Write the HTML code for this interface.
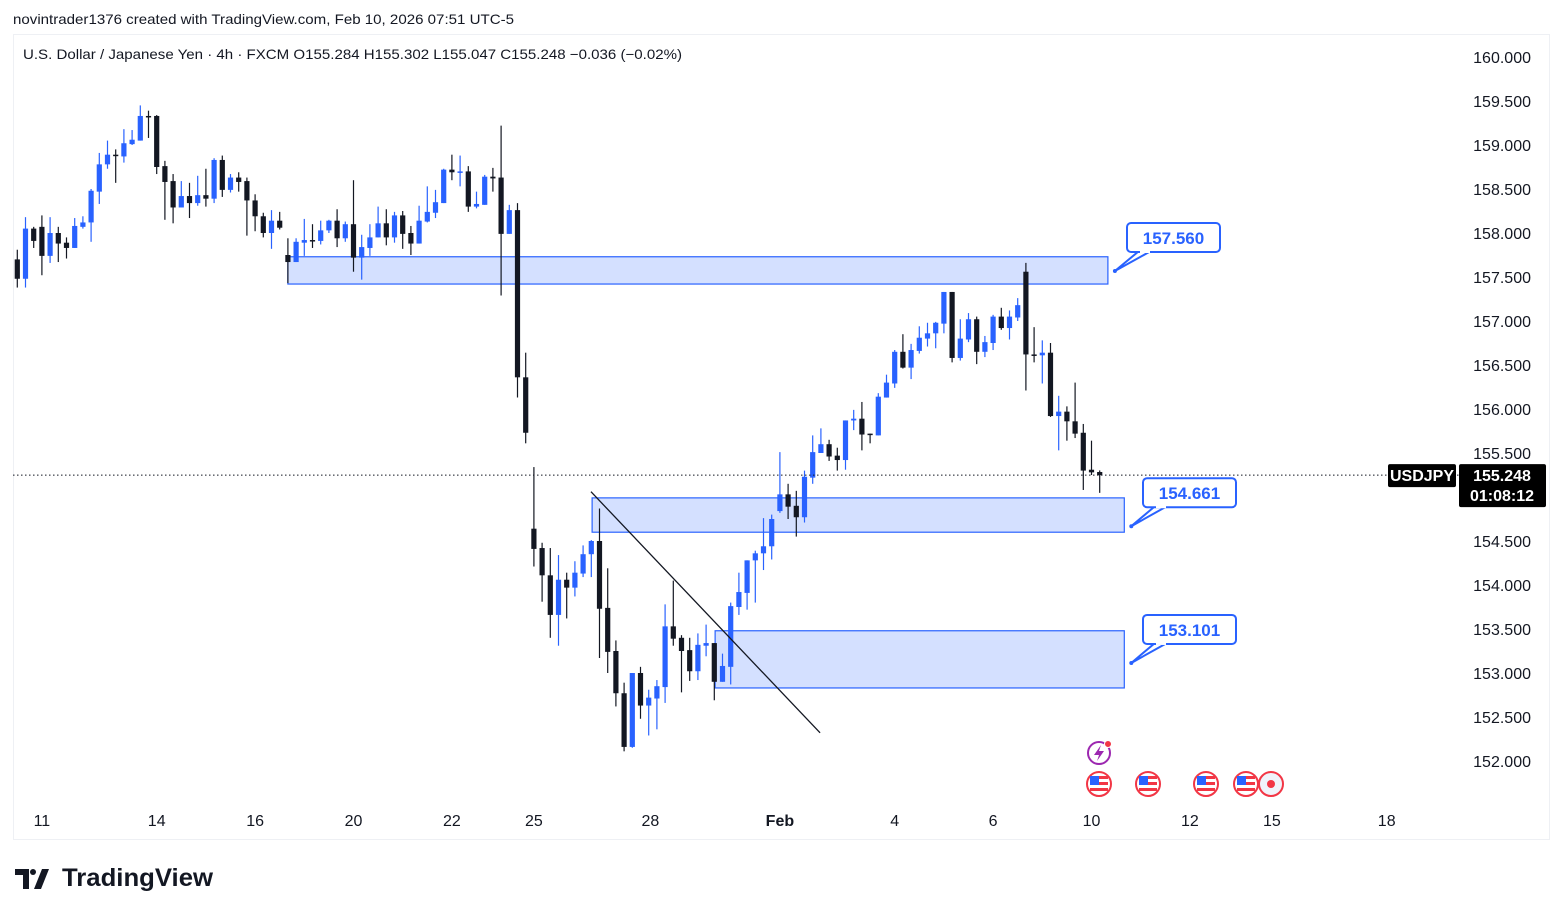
<!DOCTYPE html>
<html><head><meta charset="utf-8"><style>
html,body{margin:0;padding:0;background:#fff;}
svg{display:block;font-family:"Liberation Sans",sans-serif;}
</style></head><body>
<svg id="chart" width="1563" height="915" viewBox="0 0 1563 915">
<rect x="0" y="0" width="1563" height="915" fill="#fff"/>
<text x="13" y="24" font-size="14" fill="#131722" textLength="501" lengthAdjust="spacingAndGlyphs">novintrader1376 created with TradingView.com, Feb 10, 2026 07:51 UTC-5</text>
<rect x="13.5" y="34.5" width="1536" height="805" fill="none" stroke="#eef0f4"/>
<text x="23" y="59" font-size="14" fill="#131722" textLength="659" lengthAdjust="spacingAndGlyphs">U.S. Dollar / Japanese Yen · 4h · FXCM  O155.284  H155.302  L155.047  C155.248  −0.036 (−0.02%)</text>
<g id="zones"></g>
<g id="candles"></g>
<g id="drawings"></g>
<g id="yaxis"></g>
<g id="xaxis"></g>
<g id="events"></g>
<g>
<path d="M15 869 h14 v20 h-6 v-14 h-8z M34 889 l8-20 h7 l-8 20z" fill="#131722"/>
<circle cx="33" cy="872" r="3" fill="#131722"/>
<text x="62" y="886" font-size="25" font-weight="bold" fill="#131722" textLength="151" lengthAdjust="spacingAndGlyphs">TradingView</text>
</g>
</svg>
<script>
const opens=[157.70,157.48,158.05,158.07,157.74,158.00,157.89,157.83,158.07,158.12,158.47,158.78,158.89,158.87,159.01,159.05,159.33,159.33,158.76,158.59,158.29,158.42,158.34,158.43,158.39,158.83,158.49,158.63,158.59,158.37,158.19,158.00,158.14,157.75,157.67,157.89,157.92,157.91,158.03,158.14,157.94,158.10,157.72,157.83,157.95,158.11,157.95,158.20,158.00,157.88,158.13,158.23,158.34,158.72,158.69,158.70,158.30,158.32,158.64,158.63,157.99,158.26,156.36,154.64,154.42,154.11,153.66,154.06,153.97,154.13,154.35,154.50,153.74,153.25,152.77,152.16,153.00,152.63,152.71,152.84,153.53,153.40,153.26,153.02,153.31,153.34,152.90,153.07,153.75,153.91,154.28,154.36,154.44,154.84,155.03,154.90,154.77,155.22,155.50,155.60,155.47,155.42,155.87,155.89,155.72,155.70,156.13,156.29,156.65,156.47,156.66,156.80,156.86,156.97,157.33,156.58,156.79,157.02,156.65,156.75,157.05,156.92,157.04,157.56,156.62,156.61,156.64,155.92,155.97,155.86,155.73,155.31,155.284];
const highs=[157.81,158.18,158.07,158.20,158.18,158.07,157.95,158.17,158.19,158.50,158.91,159.05,158.95,159.18,159.17,159.45,159.39,159.34,158.82,158.67,158.59,158.57,158.65,158.73,158.85,158.88,158.67,158.69,158.63,158.44,158.23,158.26,158.24,157.94,157.94,158.16,158.10,158.14,158.15,158.27,158.13,158.60,157.98,158.10,158.30,158.27,158.24,158.25,158.08,158.31,158.53,158.49,158.73,158.89,158.88,158.76,158.47,158.66,158.74,159.22,158.32,158.34,156.64,155.34,154.48,154.42,154.34,154.14,154.27,154.45,154.51,154.87,154.19,153.37,152.89,153.00,153.07,152.81,152.92,153.78,154.05,153.43,153.40,153.45,153.55,153.34,153.22,153.80,154.14,154.28,154.39,154.76,154.80,155.51,155.15,155.07,155.30,155.70,155.78,155.65,155.56,155.87,155.99,156.08,155.72,156.18,156.39,156.67,156.85,156.74,156.94,156.98,156.99,157.33,157.33,157.02,157.09,157.05,156.83,157.07,157.15,157.12,157.26,157.66,156.93,156.78,156.75,156.15,156.03,156.30,155.83,155.64,155.302];
const lows=[157.38,157.38,157.83,157.52,157.66,157.67,157.71,157.83,158.05,157.90,158.33,158.73,158.57,158.80,159.00,159.05,159.08,158.67,158.15,158.11,158.29,158.17,158.31,158.30,158.34,158.41,158.46,158.47,157.97,158.02,157.95,157.82,158.04,157.43,157.67,157.74,157.83,157.87,158.00,157.84,157.90,157.56,157.47,157.74,157.95,157.86,157.89,157.82,157.75,157.88,158.12,158.17,158.34,158.60,158.53,158.24,158.28,158.32,158.47,157.29,157.99,156.13,155.61,154.21,153.81,153.40,153.31,153.62,153.87,154.09,154.09,153.17,153.00,152.62,152.11,152.15,152.48,152.29,152.36,152.66,153.31,152.78,152.91,152.92,153.19,152.69,152.90,152.87,153.66,153.72,153.80,154.17,154.29,154.82,154.75,154.55,154.71,155.15,155.50,155.41,155.30,155.31,155.76,155.53,155.61,155.70,156.13,156.24,156.46,156.34,156.63,156.71,156.69,156.86,156.53,156.55,156.76,156.51,156.59,156.67,156.90,156.79,157.00,156.21,156.53,156.29,155.91,155.53,155.64,155.67,155.08,155.25,155.047];
const closes=[157.48,158.05,157.91,157.74,158.00,157.88,157.83,158.08,158.12,158.48,158.78,158.89,158.88,159.02,159.06,159.33,159.32,158.75,158.58,158.29,158.42,158.34,158.43,158.39,158.83,158.49,158.63,158.58,158.37,158.19,158.00,158.14,158.06,157.67,157.90,157.92,157.91,158.03,158.14,157.94,158.10,157.72,157.84,157.95,158.11,157.95,158.20,157.99,157.88,158.14,158.24,158.35,158.72,158.69,158.70,158.30,158.33,158.64,158.62,157.99,158.26,156.36,155.73,154.41,154.11,153.66,154.06,153.97,154.14,154.35,154.50,153.73,153.24,152.77,152.16,153.00,152.63,152.72,152.85,153.53,153.39,153.25,153.02,153.32,153.34,152.90,153.08,153.76,153.92,154.28,154.36,154.44,154.75,155.03,154.89,154.77,155.23,155.51,155.60,155.46,155.42,155.87,155.89,155.71,155.71,156.14,156.30,156.65,156.47,156.67,156.81,156.86,156.98,157.33,156.58,156.80,157.02,156.65,156.76,157.05,156.92,157.05,157.18,156.62,156.61,156.64,155.92,155.97,155.86,155.72,155.30,155.28,155.248];
const priceTicks=["160.000","159.500","159.000","158.500","158.000","157.500","157.000","156.500","156.000","155.500","154.500","154.000","153.500","153.000","152.500","152.000"];
const dateLabels=["11","14","16","20","22","25","28","Feb","4","6","10","12","15","18"];
const dateIndex=[3,17,29,41,53,63,77.2,93,107,119,131,143,153,167];
const zoneTop=[157.73,154.99,153.48];
const zoneBottom=[157.42,154.60,152.83];
const zoneStart=[33,70.1,85.1];
const zoneEnd=[133,135,135];
const calloutValues=["157.560","154.661","153.101"];
const trendIdx=[69.96,97.9];
const trendPrice=[155.06,152.32];
const lastPrice=155.248;

const NS="http://www.w3.org/2000/svg";
function xs(i){return 17.3+i*8.2;}
function ys(p){return 57+(160-p)*88;}
function mk(tag,attrs,parent){const e=document.createElementNS(NS,tag);for(const k in attrs)e.setAttribute(k,attrs[k]);parent.appendChild(e);return e;}
const BLUE="#2962ff",BLK="#131722";

const zg=document.getElementById('zones');
for(let i=0;i<zoneTop.length;i++){
 const r=mk('rect',{x:xs(zoneStart[i]),y:ys(zoneTop[i]),width:xs(zoneEnd[i])-xs(zoneStart[i]),height:ys(zoneBottom[i])-ys(zoneTop[i]),fill:"rgba(41,98,255,0.2)",stroke:BLUE,'stroke-width':1.2},zg);
 
 
}

const cg=document.getElementById('candles');
for(let i=0;i<opens.length;i++){
 const up=closes[i]>=opens[i];const col=up?BLUE:BLK;const x=xs(i);
 const g=mk('g',{},cg);
 
 
 mk('line',{x1:x,x2:x,y1:ys(highs[i]),y2:ys(lows[i]),stroke:col,'stroke-width':1.2},g);
 const t=ys(Math.max(opens[i],closes[i])),b=ys(Math.min(opens[i],closes[i]));
 mk('rect',{x:x-2.6,y:t,width:5.2,height:Math.max(1.5,b-t),fill:col},g);
}

const dg=document.getElementById('drawings');
const tl=mk('line',{x1:xs(trendIdx[0]),y1:ys(trendPrice[0]),x2:xs(trendIdx[1]),y2:ys(trendPrice[1]),stroke:BLK,'stroke-width':1.3},dg);


// callouts
for(let i=0;i<calloutValues.length;i++){
 const zx=xs(zoneEnd[i]);
 const dotX=zx+7,dotY=i===0?271:ys(zoneBottom[i])+(i===1?-6:-25);
 const bx=i===0?1127:1143,by=dotY-48,bw=93,bh=29;
 const g=mk('g',{},dg);
 
 
 mk('path',{d:`M${bx+12} ${by+bh-1} L${dotX} ${dotY} L${bx+24} ${by+bh-1}`,fill:"#fff",stroke:BLUE,'stroke-width':2},g);
 mk('rect',{x:bx,y:by,width:bw,height:bh,rx:4,fill:"#fff",stroke:BLUE,'stroke-width':2},g);
 mk('rect',{x:bx+13,y:by+bh-3,width:10,height:4,fill:"#fff"},g);
 mk('circle',{cx:dotX,cy:dotY,r:2,fill:BLUE},g);
 const t=mk('text',{x:bx+bw/2,y:by+21,'text-anchor':'middle','font-size':17,'font-weight':'bold',fill:BLUE},g);
 t.textContent=calloutValues[i];
}

// last price line
const ly=ys(lastPrice);
const pl=mk('line',{x1:13,x2:1460,y1:ly,y2:ly,stroke:BLK,'stroke-width':1,'stroke-dasharray':'1.5 2.5'},dg);



const yg=document.getElementById('yaxis');
for(let i=0;i<priceTicks.length;i++){
 const p=parseFloat(priceTicks[i]);
 const t=mk('text',{x:1531,y:ys(p)+6,'text-anchor':'end','font-size':16,fill:BLK},yg);
 
 
 t.textContent=priceTicks[i];
}
const sym=mk('g',{},yg);


mk('rect',{x:1388,y:ly-11,width:68,height:23,rx:2,fill:"#000"},sym);
const st=mk('text',{x:1422,y:ly+6,'text-anchor':'middle','font-size':16,'font-weight':'bold',fill:"#fff"},sym);st.textContent="USDJPY";
const pb=mk('g',{},yg);


mk('rect',{x:1459,y:ly-11,width:87,height:43,rx:2,fill:"#000"},pb);
const pt=mk('text',{x:1502,y:ly+6,'text-anchor':'middle','font-size':16,'font-weight':'bold',fill:"#fff"},pb);pt.textContent=lastPrice.toFixed(3);
const ct=mk('text',{x:1502,y:ly+26,'text-anchor':'middle','font-size':16,'font-weight':'bold',fill:"#fff"},pb);ct.textContent="01:08:12";

const xg=document.getElementById('xaxis');
for(let i=0;i<dateLabels.length;i++){
 const t=mk('text',{x:xs(dateIndex[i]),y:826,'text-anchor':'middle','font-size':16,fill:BLK,'font-weight':dateLabels[i]==="Feb"?"bold":"normal"},xg);
 
 
 t.textContent=dateLabels[i];
}

const eg=document.getElementById('events');
const fl=mk('g',{},eg);


mk('circle',{cx:1099,cy:753,r:11,fill:"#fff",stroke:"#9c27b0",'stroke-width':2},fl);
mk('path',{d:"M1101 745 L1094 755 L1099 755 L1097 761 L1104 751 L1099 751z",fill:"#9c27b0"},fl);
mk('circle',{cx:1108,cy:744,r:3.5,fill:"#f23645",stroke:"#fff",'stroke-width':1},fl);
const flagX=[1099,1148,1206,1246];
for(const fx of flagX){
 const g=mk('g',{},eg);
 
 
 mk('circle',{cx:fx,cy:784,r:12,fill:"#fff",stroke:"#f23645",'stroke-width':2},g);
 mk('rect',{x:fx-9,y:776,width:18,height:3,fill:"#f23645"},g);
 mk('rect',{x:fx-9,y:782,width:18,height:3,fill:"#f23645"},g);
 mk('rect',{x:fx-9,y:788,width:18,height:3,fill:"#f23645"},g);
 mk('rect',{x:fx-9,y:776,width:9,height:9,fill:"#2962ff"},g);
}
const rd=mk('g',{},eg);


mk('circle',{cx:1271,cy:784,r:12,fill:"#f0f3fa",stroke:"#f23645",'stroke-width':2},rd);
mk('circle',{cx:1271,cy:784,r:4,fill:"#f23645"},rd);
</script>
</body></html>
